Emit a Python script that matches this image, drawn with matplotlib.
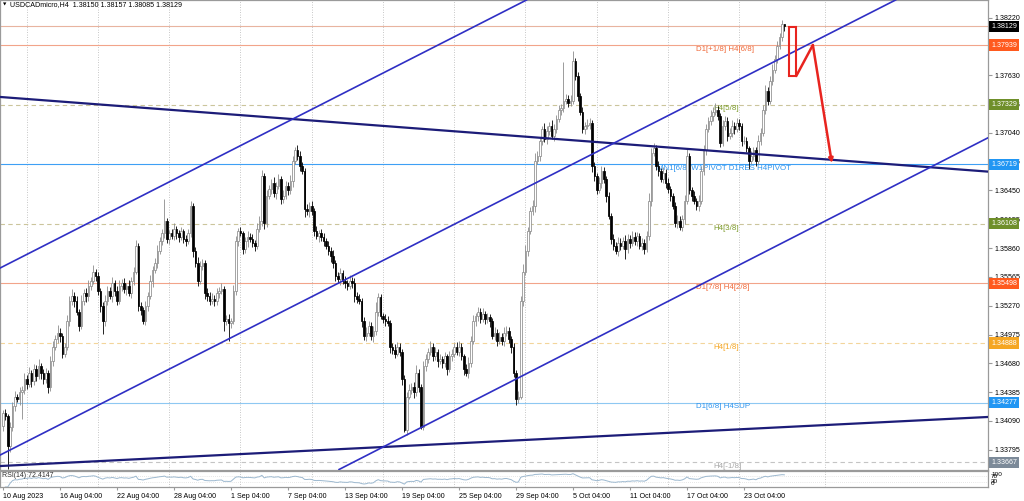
import numpy as np
import pandas as pd
import matplotlib
matplotlib.use("Agg")
import matplotlib.pyplot as plt
import matplotlib.transforms as mtransforms
from matplotlib.patches import Rectangle

plt.rcParams["font.family"] = ["Liberation Sans", "DejaVu Sans"]

# ── Data (USDCADmicro, H4) ───────────────────────────────────────────
FIRST_OPEN = 1.3404
LAST_OHLC = (1.38150, 1.38157, 1.38085, 1.38129)

CLOSES = [
    1.3417, 1.3414, 1.3383, 1.3403, 1.3424, 1.3434, 1.3431, 1.3439, 1.3441, 1.3452,
    1.3447, 1.3458, 1.3450, 1.3462, 1.3455, 1.3465, 1.3458, 1.3452, 1.3458, 1.3444,
    1.3470, 1.3485, 1.3493, 1.3499, 1.3496, 1.3478, 1.3485, 1.3511, 1.3532, 1.3537,
    1.3532, 1.3521, 1.3506, 1.3532, 1.3540, 1.3537, 1.3547, 1.3552, 1.3562, 1.3557,
    1.3542, 1.3527, 1.3511, 1.3532, 1.3542, 1.3537, 1.3550, 1.3542, 1.3532, 1.3547,
    1.3550, 1.3544, 1.3547, 1.3540, 1.3552, 1.3562, 1.3588, 1.3527, 1.3523, 1.3511,
    1.3527, 1.3537, 1.3552, 1.3564, 1.3571, 1.3583, 1.3593, 1.3601, 1.3614, 1.3595,
    1.3601, 1.3598, 1.3606, 1.3601, 1.3597, 1.3603, 1.3595, 1.3593, 1.3601, 1.3629,
    1.3583, 1.3571, 1.3552, 1.3568, 1.3571, 1.3540, 1.3537, 1.3532, 1.3534, 1.3532,
    1.3540, 1.3542, 1.3544, 1.3511, 1.3513, 1.3509, 1.3511, 1.3542, 1.3593, 1.3603,
    1.3601, 1.3585, 1.3593, 1.3597, 1.3595, 1.3591, 1.3588, 1.3606, 1.3614, 1.3660,
    1.3612, 1.3639, 1.3646, 1.3653, 1.3642, 1.3650, 1.3657, 1.3636, 1.3639, 1.3650,
    1.3645, 1.3655, 1.3675, 1.3686, 1.3680, 1.3670, 1.3665, 1.3626, 1.3624, 1.3629,
    1.3624, 1.3603, 1.3598, 1.3601, 1.3597, 1.3593, 1.3588, 1.3583, 1.3578, 1.3571,
    1.3557, 1.3554, 1.3560, 1.3552, 1.3550, 1.3547, 1.3552, 1.3550, 1.3537, 1.3534,
    1.3532, 1.3511, 1.3496, 1.3499, 1.3506, 1.3496, 1.3501, 1.3521, 1.3536, 1.3516,
    1.3513, 1.3511, 1.3509, 1.3485, 1.3482, 1.3478, 1.3485, 1.3480, 1.3452, 1.3400,
    1.3434, 1.3441, 1.3444, 1.3439, 1.3458, 1.3444, 1.3403, 1.3465, 1.3472, 1.3480,
    1.3485, 1.3475, 1.3480, 1.3470, 1.3472, 1.3468, 1.3475, 1.3462, 1.3475, 1.3478,
    1.3485, 1.3480, 1.3485, 1.3475, 1.3462, 1.3458, 1.3468, 1.3491, 1.3511, 1.3516,
    1.3521, 1.3513, 1.3519, 1.3513, 1.3515, 1.3511, 1.3496, 1.3499, 1.3491, 1.3495,
    1.3491, 1.3499, 1.3501, 1.3493, 1.3485, 1.3458, 1.3431, 1.3434, 1.3532, 1.3562,
    1.3583, 1.3603, 1.3624, 1.3629, 1.3675, 1.3680, 1.3696, 1.3708, 1.3698, 1.3706,
    1.3711, 1.3701, 1.3708, 1.3718, 1.3727, 1.3729, 1.3737, 1.3739, 1.3735, 1.3737,
    1.3778, 1.3762, 1.3742, 1.3725, 1.3708, 1.3711, 1.3712, 1.3714, 1.3670, 1.3660,
    1.3645, 1.3653, 1.3665, 1.3657, 1.3639, 1.3619, 1.3595, 1.3588, 1.3583, 1.3591,
    1.3588, 1.3593, 1.3585, 1.3595, 1.3591, 1.3597, 1.3593, 1.3598, 1.3588, 1.3591,
    1.3585, 1.3598, 1.3634, 1.3683, 1.3688, 1.3670, 1.3665, 1.3657, 1.3663, 1.3653,
    1.3646, 1.3639, 1.3629, 1.3612, 1.3614, 1.3608, 1.3616, 1.3634, 1.3680, 1.3645,
    1.3639, 1.3634, 1.3629, 1.3634, 1.3665, 1.3686, 1.3708, 1.3716, 1.3721, 1.3725,
    1.3727, 1.3721, 1.3694, 1.3711, 1.3716, 1.3701, 1.3704, 1.3711, 1.3708, 1.3714,
    1.3711, 1.3696, 1.3696, 1.3688, 1.3675, 1.3680, 1.3686, 1.3675, 1.3696, 1.3704,
    1.3727, 1.3747, 1.3737, 1.3757, 1.3768, 1.3780, 1.3793, 1.3802, 1.3815, 1.38129,
]

# wick lengths above / below the body, in pips
UPPER_PIPS = [
    3, 4, 2, 5, 4, 6, 3, 5, 4, 6,   4, 6, 3, 5, 4, 7, 3, 4, 5, 3,
    5, 6, 4, 8, 5, 3, 4, 6, 5, 7,   4, 5, 3, 6, 4, 5, 6, 4, 7, 3,
    5, 3, 4, 6, 5, 4, 6, 3, 5, 6,   4, 5, 3, 6, 4, 5, 6, 3, 4, 3,
    5, 4, 6, 4, 5, 6, 4, 5, 22, 3,  4, 5, 6, 3, 4, 5, 3, 4, 5, 5,
    3, 4, 6, 5, 4, 3, 5, 4, 6, 4,   5, 4, 6, 3, 4, 5, 3, 6, 5, 4,
    5, 3, 4, 6, 4, 5, 3, 6, 5, 6,   3, 6, 5, 4, 6, 4, 5, 3, 6, 5,
    4, 6, 5, 4, 6, 5, 4, 3, 5, 4,   5, 3, 6, 4, 5, 4, 3, 5, 4, 6,
    3, 5, 6, 4, 5, 3, 6, 4, 5, 4,   5, 3, 4, 6, 5, 4, 5, 10, 4, 3,
    4, 6, 5, 3, 4, 6, 5, 4, 3, 4,   5, 6, 4, 5, 8, 4, 3, 5, 6, 4,
    6, 4, 5, 3, 6, 4, 5, 3, 6, 5,   4, 5, 6, 4, 3, 5, 6, 5, 6, 4,
    5, 4, 6, 3, 5, 4, 3, 6, 4, 5,   4, 6, 5, 4, 3, 4, 3, 6, 5, 8,
    6, 5, 4, 6, 8, 5, 4, 3, 6, 5,   4, 6, 5, 4, 6, 5, 40, 5, 4, 6,
    10, 3, 4, 3, 5, 4, 6, 5, 3, 4,  3, 6, 5, 4, 3, 4, 3, 5, 4, 6,
    5, 4, 6, 5, 4, 6, 5, 4, 3, 5,   4, 6, 8, 5, 6, 4, 5, 3, 6, 4,
    5, 4, 3, 4, 6, 5, 4, 6, 8, 3,   4, 5, 3, 6, 5, 6, 5, 4, 6, 5,
    8, 4, 3, 6, 5, 4, 5, 6, 4, 5,   4, 3, 5, 4, 3, 5, 4, 3, 6, 5,
    5, 6, 4, 5, 6, 4, 5, 4, 5, 1,
]
LOWER_PIPS = [
    5, 4, 23, 6, 4, 5, 3, 6, 28, 4,  5, 3, 6, 4, 5, 3, 6, 5, 4, 6,
    4, 5, 3, 4, 6, 5, 4, 3, 5, 4,    6, 4, 5, 3, 4, 6, 5, 4, 3, 5,
    4, 6, 13, 5, 4, 3, 6, 5, 4, 3,   5, 4, 6, 3, 5, 4, 3, 5, 6, 3,
    4, 5, 3, 6, 4, 5, 3, 4, 5, 4,    5, 3, 4, 6, 5, 3, 4, 5, 3, 4,
    6, 4, 5, 3, 4, 6, 5, 4, 3, 5,    4, 5, 3, 10, 4, 18, 5, 3, 4, 5,
    3, 5, 4, 6, 3, 4, 5, 3, 4, 5,    6, 4, 3, 5, 4, 6, 3, 5, 4, 3,
    5, 4, 6, 3, 4, 5, 3, 8, 4, 6,    4, 5, 3, 6, 4, 5, 3, 4, 6, 5,
    5, 4, 6, 3, 5, 4, 3, 5, 6, 4,    3, 6, 4, 5, 3, 4, 6, 4, 5, 3,
    4, 5, 3, 6, 4, 5, 3, 4, 6, 2,    5, 3, 4, 6, 4, 5, 2, 3, 5, 4,
    3, 5, 4, 6, 3, 5, 4, 6, 3, 5,    4, 3, 5, 4, 6, 3, 5, 4, 3, 5,
    5, 4, 3, 5, 4, 6, 3, 4, 5, 3,    4, 5, 3, 4, 6, 4, 6, 4, 3, 5,
    4, 5, 3, 4, 6, 3, 5, 4, 3, 5,    4, 3, 5, 4, 3, 5, 4, 3, 5, 4,
    3, 4, 5, 3, 4, 5, 3, 4, 6, 5,    4, 3, 5, 4, 6, 3, 5, 4, 3, 5,
    4, 3, 10, 4, 5, 3, 4, 5, 3, 4,   5, 3, 4, 5, 3, 4, 5, 3, 4, 5,
    4, 5, 3, 4, 5, 3, 4, 5, 3, 4,    5, 3, 4, 5, 3, 4, 5, 3, 4, 5,
    3, 4, 5, 3, 4, 5, 3, 4, 5, 3,    4, 5, 3, 4, 8, 3, 4, 5, 3, 4,
    3, 4, 5, 3, 4, 3, 4, 3, 4, 4,
]

# horizontal levels (Murrey / pivots) and their labels
LEVEL_PRICES = [1.37939, 1.37329, 1.36719, 1.36108, 1.35498, 1.34888, 1.34277, 1.33667]
LEVEL_NAMES = ["D1[+1/8] H4[6/8]", "H4[5/8]", "MN1[6/8] W1PIVOT D1RES H4PIVOT", "H4[3/8]",
               "D1[7/8] H4[2/8]", "H4[1/8]", "D1[6/8] H4SUP", "H4[-1/8]"]
BID_PRICE = 1.38129

# trend lines: (bar, price) anchor pairs
NAVY_LINES = [((0, 1.37405), (400, 1.36670)),
              ((0, 1.33630), (400, 1.34113))]
CHANNEL_LINES = [((0, 1.35671), (200, 1.38147)),
                 ((0, 1.33756), (300, 1.37463)),
                 ((160, 1.33823), (400, 1.36806))]

# hand-drawn red projection
BOX_BARS = (331, 334)
BOX_PRICES = (1.37622, 1.38124)
PATH_BARS = [334, 341, 349]
PATH_PRICES = [1.37622, 1.37939, 1.36731]

PRICE_TICKS = [1.33795, 1.34090, 1.34385, 1.34680, 1.34975, 1.35270, 1.35565, 1.35860,
               1.36155, 1.36450, 1.36745, 1.37040, 1.37335, 1.37630, 1.38220]
DATE_BARS = [0, 24, 48, 72, 96, 120, 144, 168, 192, 216, 240, 264, 288, 312]
DATE_LABELS = ["10 Aug 2023", "16 Aug 04:00", "22 Aug 04:00", "28 Aug 04:00", "1 Sep 04:00",
               "7 Sep 04:00", "13 Sep 04:00", "19 Sep 04:00", "25 Sep 04:00", "29 Sep 04:00",
               "5 Oct 04:00", "11 Oct 04:00", "17 Oct 04:00", "23 Oct 04:00"]
GRID_BARS = [10, 40, 70, 100, 130, 160, 190, 220, 250, 280, 310, 346]
RSI_SCALE = [100, 70, 30, 0]

# ── Style ────────────────────────────────────────────────────────────
LEVEL_STYLE = [
    # line colour, line style, text colour, price-box colour
    ("#f2a48a", "-",  "#f06a3a", "#ff5a1e"),
    ("#cbc59c", "--", "#7d9b2b", "#6f8f2a"),
    ("#3ea0f5", "-",  "#2f95ee", "#2196f3"),
    ("#cbc59c", "--", "#7d9b2b", "#6f8f2a"),
    ("#f2a48a", "-",  "#f06a3a", "#ff5a1e"),
    ("#f3d59a", "--", "#f5a623", "#f5a623"),
    ("#8ec8f2", "-",  "#2f95ee", "#2196f3"),
    ("#c4c4c4", "--", "#a8a8a8", "#7c8a99"),
]
LEVEL_LABEL_BAR = [291.8, 299, 275.4, 299, 291.8, 299, 291.8, 299]
RSI_LABEL_Y = [80, 68, 32, 20]
BULL_EDGE = "#8c8c8c"
FRAME = "#9a9a9a"
FS = 5.1

W, H = 1024, 501
fig = plt.figure(figsize=(W / 100, H / 100), dpi=100)
ax = fig.add_axes([0, 1 - 469.5 / H, 988 / W, 469.5 / H])
axr = fig.add_axes([0, 1 - 487 / H, 988 / W, 16 / H])

opens = np.r_[FIRST_OPEN, CLOSES[:-1]]
closes = np.array(CLOSES)
highs = np.maximum(opens, closes) + np.array(UPPER_PIPS) * 1e-4
lows = np.minimum(opens, closes) - np.array(LOWER_PIPS) * 1e-4
opens[-1], highs[-1], lows[-1], closes[-1] = LAST_OHLC
idx = np.arange(len(closes))
up = closes >= opens

xlim = (-1.263, 414.74)
ax.set_xlim(*xlim)
ax.set_ylim(1.33593, 1.38400)

# vertical grid
for g in GRID_BARS:
    ax.axvline(g, color="#b4b4b4", lw=0.6, ls=(0, (1, 2)), zorder=0)
    axr.axvline(g, color="#b4b4b4", lw=0.6, ls=(0, (1, 2)), zorder=0)

# levels
ax.axhline(BID_PRICE, color="#e8b4a0", lw=0.8, zorder=1)
for p, name, (lc, ls, tc, bc), xb in zip(LEVEL_PRICES, LEVEL_NAMES, LEVEL_STYLE, LEVEL_LABEL_BAR):
    ax.axhline(p, color=lc, lw=0.8, ls=ls if ls == "-" else (0, (4, 3)), zorder=1)
    ax.text(xb, p - 0.00008, name, color=tc, fontsize=5.7, ha="left", va="top", zorder=2)

# candles
ax.vlines(idx[up], lows[up], highs[up], color=BULL_EDGE, lw=0.6, zorder=3)
ax.vlines(idx[~up], lows[~up], highs[~up], color="black", lw=0.6, zorder=3)
ax.bar(idx[up], (closes - opens)[up], bottom=opens[up], width=0.7,
       color="white", edgecolor=BULL_EDGE, linewidth=0.55, zorder=4)
ax.bar(idx[~up], (closes - opens)[~up], bottom=opens[~up], width=0.7,
       color="black", edgecolor="black", linewidth=0.55, zorder=4)

# trend lines
for p1, p2 in NAVY_LINES:
    ax.axline(p1, p2, color="#1c1c78", lw=1.6, zorder=5)
for p1, p2 in CHANNEL_LINES:
    ax.axline(p1, p2, color="#2f2fc4", lw=1.2, zorder=5)

# red projection
ax.add_patch(Rectangle((BOX_BARS[0], BOX_PRICES[0]), BOX_BARS[1] - BOX_BARS[0],
                       BOX_PRICES[1] - BOX_PRICES[0], fill=False, ec="#e8241f", lw=1.5, zorder=6))
ax.plot(PATH_BARS[:2], PATH_PRICES[:2], color="#e8241f", lw=1.8, zorder=6,
        solid_capstyle="round")
ax.annotate("", xy=(PATH_BARS[2], PATH_PRICES[2]), xytext=(PATH_BARS[1], PATH_PRICES[1]),
            arrowprops=dict(arrowstyle="-|>", color="#e8241f", lw=1.8,
                            mutation_scale=6, shrinkA=0, shrinkB=0), zorder=6)

# right price scale
ax.yaxis.tick_right()
ax.set_yticks(PRICE_TICKS)
ax.set_yticklabels([f"{t:.5f}" for t in PRICE_TICKS])
ax.tick_params(axis="y", labelsize=FS, length=3, color=FRAME, pad=2, labelcolor="black")
ax.tick_params(axis="x", bottom=False, labelbottom=False)
for s in ax.spines.values():
    s.set_color(FRAME)
    s.set_linewidth(0.9)

box_tf = mtransforms.blended_transform_factory(ax.transAxes, ax.transData)
for p, (_, _, _, bc) in zip(LEVEL_PRICES + [BID_PRICE], LEVEL_STYLE + [(0, 0, 0, "black")]):
    ax.text(1.0 + 3 / 988, p, f"{p:.5f}", transform=box_tf, color="white", fontsize=FS,
            ha="left", va="center", clip_on=False, zorder=10,
            bbox=dict(boxstyle="square,pad=0.3", fc=bc, ec="none"))

# title
fig.text(3 / W, 1 - 5 / H, "\u25bc", fontsize=3.2, va="center", ha="left",
         family="DejaVu Sans")
fig.text(10 / W, 1 - 5 / H, "USDCADmicro,H4  1.38150 1.38157 1.38085 1.38129",
         fontsize=FS, va="center", ha="left")

# RSI panel
delta = pd.Series(closes).diff()
gain = delta.clip(lower=0).ewm(alpha=1 / 14, adjust=False).mean()
loss = (-delta.clip(upper=0)).ewm(alpha=1 / 14, adjust=False).mean()
rsi = 100 - 100 / (1 + gain / loss)
axr.set_xlim(*xlim)
axr.set_ylim(0, 100)
for lvl in (70, 30):
    axr.axhline(lvl, color="#d0d0d0", lw=0.5, ls=(0, (1, 2)))
axr.plot(idx, rsi, color="#9cb8cf", lw=0.7)
axr.text(2 / 988, 0.72, "RSI(14) 72.4147", transform=axr.transAxes, fontsize=5,
         color="#303030", va="center", ha="left")
rsi_tf = mtransforms.blended_transform_factory(axr.transAxes, axr.transData)
for v, yl in zip(RSI_SCALE, RSI_LABEL_Y):
    axr.text(1.0 + 3 / 988, yl, str(v), transform=rsi_tf, fontsize=4.6,
             va="center", ha="left", clip_on=False)
axr.set_yticks([])
axr.set_xticks(DATE_BARS)
axr.set_xticklabels(DATE_LABELS, ha="left", fontsize=FS)
axr.tick_params(axis="x", length=2, pad=2, color=FRAME)
for s in axr.spines.values():
    s.set_color(FRAME)
    s.set_linewidth(0.9)

fig.savefig("out.png", dpi=100)
